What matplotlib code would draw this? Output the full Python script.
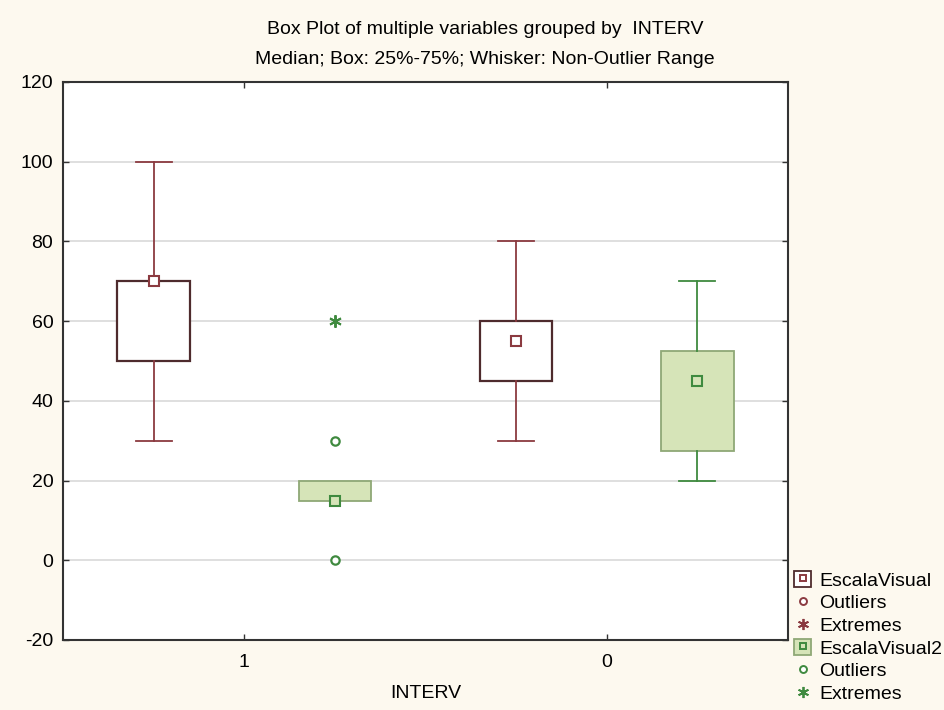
import matplotlib
matplotlib.use("Agg")
import matplotlib.pyplot as plt
from matplotlib.lines import Line2D
from matplotlib.patches import Patch
from matplotlib.legend_handler import HandlerTuple

plt.rcParams['font.family'] = ['Liberation Sans', 'DejaVu Sans']
plt.rcParams['axes.unicode_minus'] = False

# ---- data ----
groups = ["1", "0"]
ev_med = [70, 55]
ev_q1 = [50, 45]
ev_q3 = [70, 60]
ev_lo = [30, 30]
ev_hi = [100, 80]

ev2_med = [15, 45]
ev2_q1 = [15, 27.5]
ev2_q3 = [20, 52.5]
ev2_lo = [15, 20]
ev2_hi = [20, 70]
ev2_outliers = [[30, 0], []]
ev2_extremes = [[60], []]

yticks = [-20, 0, 20, 40, 60, 80, 100, 120]

# ---- style ----
bg = '#fdf9ef'
maroon = '#8b3a40'
maroon_dark = '#4e2b2d'
green = '#3f8a3f'
green_edge = '#8fa876'
green_fill = '#d6e4b8'
fs = 14

fig = plt.figure(figsize=(9.45, 7.10), dpi=100, facecolor=bg)
ax = fig.add_axes([63/945, 1-640/710, (788-63)/945, (640-82)/710])
ax.set_facecolor('white')

pos = list(range(len(groups)))
off = 0.25
w = 0.2

def stats(med, q1, q3, lo, hi):
    return [dict(med=m, q1=a, q3=b, whislo=l, whishi=h, fliers=[])
            for m, a, b, l, h in zip(med, q1, q3, lo, hi)]

p1 = [p - off for p in pos]
p2 = [p + off for p in pos]

ax.bxp(stats(ev_med, ev_q1, ev_q3, ev_lo, ev_hi), positions=p1, widths=w,
       patch_artist=True, showfliers=False,
       boxprops=dict(facecolor='white', edgecolor=maroon_dark, linewidth=1.6),
       whiskerprops=dict(color=maroon, linewidth=1.3),
       capprops=dict(color=maroon, linewidth=1.3),
       medianprops=dict(linewidth=0), capwidths=0.1, zorder=3)
caps2 = [0.1 if (h > b and l < a) else 0.0 for a, b, l, h in zip(ev2_q1, ev2_q3, ev2_lo, ev2_hi)]
ax.bxp(stats(ev2_med, ev2_q1, ev2_q3, ev2_lo, ev2_hi), positions=p2, widths=w,
       patch_artist=True, showfliers=False,
       boxprops=dict(facecolor=green_fill, edgecolor=green_edge, linewidth=1.3),
       whiskerprops=dict(color=green, linewidth=1.3),
       capprops=dict(color=green, linewidth=1.3),
       medianprops=dict(linewidth=0), capwidths=caps2, zorder=3)

ax.plot(p1, ev_med, 's', ms=6.5, mfc='white', mec=maroon, mew=1.5, zorder=5)
ax.plot(p2, ev2_med, 's', ms=6.5, mfc=green_fill, mec=green, mew=1.5, zorder=5)

for p, outs, exts in zip(p2, ev2_outliers, ev2_extremes):
    if outs:
        ax.plot([p]*len(outs), outs, 'o', ms=6, mfc='white', mec=green, mew=1.6, zorder=5)
    if exts:
        ax.plot([p]*len(exts), exts, marker=(6, 2, 0), ls='none', ms=9, mec=green, color=green, mew=1.4, zorder=5)

ax.set_xlim(-0.5, 1.5)
ax.set_ylim(-20, 120)
ax.set_yticks(yticks)
ax.set_xticks(pos)
ax.set_xticklabels(groups)
ax.yaxis.grid(True, color='#d9d9d9', linewidth=1.2)
ax.set_axisbelow(True)
ax.tick_params(axis='both', direction='in', length=4, width=1, color='#333333',
               labelsize=fs, top=True, right=True, pad=7)
ax.tick_params(axis='x', pad=10)
for s in ax.spines.values():
    s.set_color('#333333')
    s.set_linewidth(1.5)
ax.set_xlabel('INTERV', fontsize=fs, labelpad=10)

fig.text(0.513, 1-30/710, 'Box Plot of multiple variables grouped by  INTERV',
         ha='center', va='center', fontsize=fs)
fig.text(0.513, 1-59/710, 'Median; Box: 25%-75%; Whisker: Non-Outlier Range',
         ha='center', va='center', fontsize=fs)

h_ev = (Patch(facecolor='white', edgecolor=maroon_dark, linewidth=1.3),
        Line2D([], [], marker='s', ls='none', ms=5, mfc='white', mec=maroon, mew=1.4))
h_out1 = Line2D([], [], marker='o', ls='none', ms=5, mfc='white', mec=maroon, mew=1.4)
h_ext1 = Line2D([], [], marker=(6, 2, 0), ls='none', ms=8, mec=maroon, color=maroon, mew=1.3)
h_ev2 = (Patch(facecolor=green_fill, edgecolor=green_edge, linewidth=1.3),
         Line2D([], [], marker='s', ls='none', ms=5, mfc=green_fill, mec=green, mew=1.4))
h_out2 = Line2D([], [], marker='o', ls='none', ms=5, mfc='white', mec=green, mew=1.4)
h_ext2 = Line2D([], [], marker=(6, 2, 0), ls='none', ms=8, mec=green, color=green, mew=1.3)

fig.legend([h_ev, h_out1, h_ext1, h_ev2, h_out2, h_ext2],
           ['EscalaVisual', 'Outliers', 'Extremes', 'EscalaVisual2', 'Outliers', 'Extremes'],
           loc='upper left', bbox_to_anchor=(794/945, 1-571/710), frameon=False,
           fontsize=fs, handlelength=0.9, handleheight=0.9, handletextpad=0.4,
           labelspacing=0.2, borderaxespad=0, borderpad=0,
           handler_map={tuple: HandlerTuple(ndivide=1, pad=0)})

fig.savefig('out.png', dpi=100, facecolor=bg)
